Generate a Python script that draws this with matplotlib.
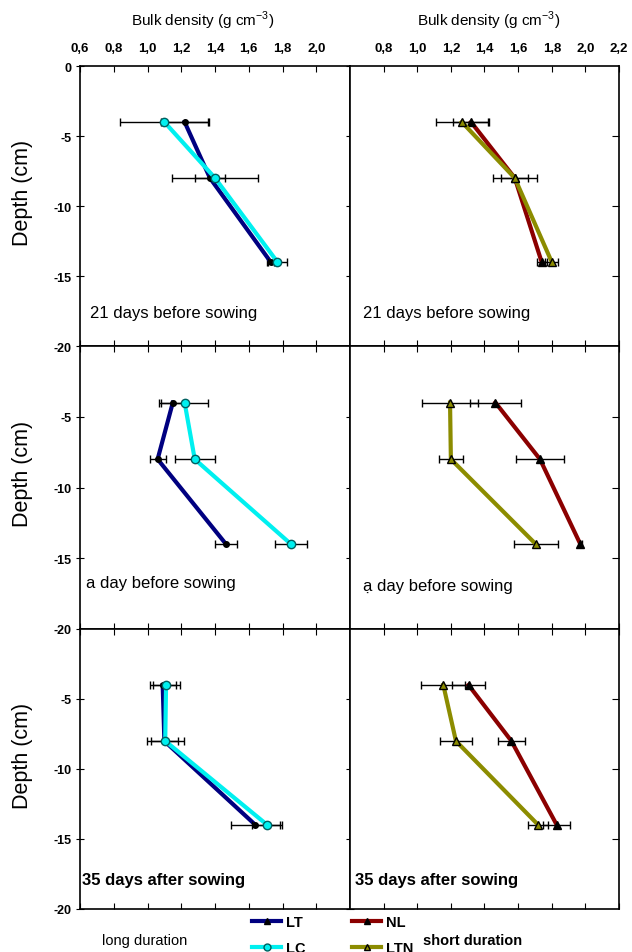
import numpy as np
import matplotlib
matplotlib.use("Agg")
import matplotlib.pyplot as plt
from matplotlib.lines import Line2D
from matplotlib.ticker import FuncFormatter

plt.rcParams['font.family'] = ['Liberation Sans', 'DejaVu Sans']

depth = [-4, -8, -14]

# 21 days before sowing
lt_21 = [1.22, 1.37, 1.73]
lt_21_err = [0.14, 0.09, 0.02]
lc_21 = [1.10, 1.40, 1.77]
lc_21_err = [0.265, 0.255, 0.055]
nl_21 = [1.32, 1.58, 1.74]
nl_21_err = [0.105, 0.08, 0.03]
ltn_21 = [1.265, 1.58, 1.80]
ltn_21_err = [0.155, 0.13, 0.04]

# a day before sowing
lt_1 = [1.15, 1.06, 1.465]
lt_1_err = [0.08, 0.047, 0.065]
lc_1 = [1.22, 1.28, 1.85]
lc_1_err = [0.138, 0.12, 0.094]
nl_1 = [1.465, 1.73, 1.97]
nl_1_err = [0.153, 0.14, 0.01]
ltn_1 = [1.195, 1.20, 1.705]
ltn_1_err = [0.165, 0.07, 0.13]

# 35 days after sowing
lt_35 = [1.09, 1.10, 1.64]
lt_35_err = [0.076, 0.08, 0.147]
lc_35 = [1.11, 1.105, 1.71]
lc_35_err = [0.08, 0.109, 0.088]
nl_35 = [1.305, 1.56, 1.83]
nl_35_err = [0.1, 0.08, 0.08]
ltn_35 = [1.155, 1.23, 1.72]
ltn_35_err = [0.13, 0.097, 0.06]

labels_left = ["21 days before sowing", "a day before sowing", "35 days after sowing"]
labels_right = ["21 days before sowing", "\u1ea1 day before sowing", "35 days after sowing"]

c_lt, c_lc, c_nl, c_ltn = "#000080", "#00f0f0", "#8b0000", "#8c8c00"

fig = plt.figure(figsize=(6.32, 9.53), dpi=100)

x0, xm, x1 = 80 / 632, 350 / 632, 619 / 632
tops = [67, 347, 630]
bots = [347, 630, 910]

long_rows = [(lt_21, lt_21_err, lc_21, lc_21_err),
             (lt_1, lt_1_err, lc_1, lc_1_err),
             (lt_35, lt_35_err, lc_35, lc_35_err)]
short_rows = [(nl_21, nl_21_err, ltn_21, ltn_21_err),
              (nl_1, nl_1_err, ltn_1, ltn_1_err),
              (nl_35, nl_35_err, ltn_35, ltn_35_err)]

comma = FuncFormatter(lambda v, p: ("%.1f" % v).replace(".", ","))
dash = FuncFormatter(lambda v, p: "%d" % v if v != 0 else "0")

for r in range(3):
    y_lo = 1 - bots[r] / 953
    h = (bots[r] - tops[r]) / 953
    axl = fig.add_axes([x0, y_lo, xm - x0, h])
    axr = fig.add_axes([xm, y_lo, x1 - xm, h])

    lt, lte, lc, lce = long_rows[r]
    nl, nle, ltn, ltne = short_rows[r]

    axl.errorbar(lt, depth, xerr=lte, color=c_lt, lw=3, marker='o', ms=4,
                 mfc='black', mec='black', ecolor='black', elinewidth=1, capsize=3, zorder=2)
    axl.errorbar(lc, depth, xerr=lce, color=c_lc, lw=3, marker='o', ms=6,
                 mfc=c_lc, mec='#006060', ecolor='black', elinewidth=1, capsize=3, zorder=3)
    axr.errorbar(nl, depth, xerr=nle, color=c_nl, lw=3, marker='^', ms=6,
                 mfc='black', mec='black', ecolor='black', elinewidth=1, capsize=3, zorder=2)
    axr.errorbar(ltn, depth, xerr=ltne, color=c_ltn, lw=3, marker='^', ms=6,
                 mfc=c_ltn, mec='black', ecolor='black', elinewidth=1, capsize=3, zorder=3)

    bold = (r == 2)
    axl.text([0.037, 0.022, 0.007][r], [0.121, 0.166, 0.107][r], labels_left[r],
             transform=axl.transAxes, fontsize=12, va='center',
             fontweight='bold' if bold else 'normal')
    axr.text([0.048, 0.048, 0.019][r], [0.121, 0.152, 0.107][r], labels_right[r],
             transform=axr.transAxes, fontsize=12, va='center',
             fontweight='bold' if bold else 'normal')

    for ax in (axl, axr):
        ax.set_xlim(0.6, 2.2)
        ax.set_ylim(-20, 0)
        for s in ax.spines.values():
            s.set_linewidth(1.2)
        ax.tick_params(axis='x', direction='in', top=True, bottom=True, length=4,
                       labelbottom=False, labeltop=(r == 0), pad=9,
                       labelsize=9.5)
        ax.xaxis.set_major_formatter(comma)

    axl.set_xticks([0.6, 0.8, 1.0, 1.2, 1.4, 1.6, 1.8, 2.0])
    axr.set_xticks([0.8, 1.0, 1.2, 1.4, 1.6, 1.8, 2.0, 2.2])
    for ax in (axl, axr):
        for t in ax.get_xticklabels():
            t.set_fontweight('bold')

    axl.set_yticks([0, -5, -10, -15, -20] if r == 0 else [-5, -10, -15, -20])
    axr.set_yticks([-5, -10, -15])
    axl.yaxis.set_major_formatter(dash)
    axl.tick_params(axis='y', direction='inout', length=6, left=True, right=True,
                    labelsize=9, pad=3)
    for t in axl.get_yticklabels():
        t.set_fontweight('bold')
    axr.tick_params(axis='y', direction='in', length=5, left=False, right=True,
                    labelleft=False)
    axl.set_ylabel("Depth (cm)", fontsize=15.5)
    axl.yaxis.set_label_coords(-0.175, 0.55)

title = "Bulk density (g cm$^{\\mathregular{-3}}$)"
fig.text(203 / 632, 1 - 21 / 953, title, ha='center', va='center', fontsize=11)
fig.text(489 / 632, 1 - 21 / 953, title, ha='center', va='center', fontsize=11)

h_lt = Line2D([], [], color=c_lt, lw=3, marker='^', ms=5, mfc='black', mec='black')
h_lc = Line2D([], [], color=c_lc, lw=3, marker='o', ms=5, mfc=c_lc, mec='#006060')
h_nl = Line2D([], [], color=c_nl, lw=3, marker='^', ms=5, mfc='black', mec='black')
h_ltn = Line2D([], [], color=c_ltn, lw=3, marker='^', ms=5, mfc=c_ltn, mec='black')

leg_font = {'weight': 'bold', 'size': 10.5}
fig.legend([h_lt, h_lc], ["LT", "LC"], loc='upper left', bbox_to_anchor=(245 / 632, 1 - 909 / 953),
           frameon=False, borderpad=0, handlelength=2.0, handletextpad=0.3, labelspacing=0.8,
           prop=leg_font)
fig.legend([h_nl, h_ltn], ["NL", "LTN"], loc='upper left', bbox_to_anchor=(345 / 632, 1 - 909 / 953),
           frameon=False, borderpad=0, handlelength=2.0, handletextpad=0.3, labelspacing=0.8,
           prop=leg_font)
fig.text(145 / 632, 1 - 941 / 953, "long duration", ha='center', va='center', fontsize=10.5)
fig.text(423 / 632, 1 - 941 / 953, "short duration", ha='left', va='center', fontsize=10.5,
         fontweight='bold')

fig.savefig("out.png", dpi=100)
